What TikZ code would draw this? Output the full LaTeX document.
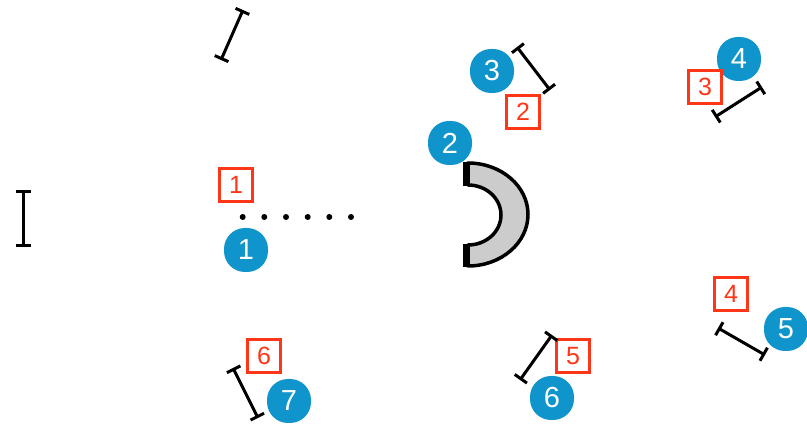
\documentclass[tikz,border=0pt]{standalone}
\usepackage{fontspec}
\setmainfont{Liberation Sans}
\usetikzlibrary{arrows.meta}
\definecolor{blobblue}{HTML}{0F95CC}
\definecolor{boxred}{HTML}{FF3517}
\definecolor{arcgray}{HTML}{CCCCCC}
\tikzset{
  blob/.style={fill=blobblue, text=white, minimum width=44pt, minimum height=44pt, rounded corners=21pt, inner sep=0pt, font=\fontsize{29}{31}\selectfont},
  rbox/.style={draw=boxred, line width=2.5pt, text=boxred, minimum size=33pt, inner sep=0pt, font=\fontsize{25}{27}\selectfont},
  ibeam/.style={line width=3pt, {Bar[width=15pt,line width=3pt]}-{Bar[width=15pt,line width=3pt]}},
  dotmark/.style={circle, fill=black, minimum size=6pt, inner sep=0pt},
}
\begin{document}
\begin{tikzpicture}[x=1pt,y=1pt]
\useasboundingbox (0,0) rectangle (807,434);
% blobs
\node[blob] (b1) at (246,184) {1};
\node[blob] (b2) at (450,291) {2};
\node[blob] (b3) at (492,363) {3};
\node[blob] (b4) at (739,375) {4};
\node[blob] (b5) at (786,105) {5};
\node[blob] (b6) at (552,36) {6};
\node[blob] (b7) at (289,33) {7};
% red boxes
\node[rbox] (r1) at (236,249) {1};
\node[rbox] (r2) at (523,322) {2};
\node[rbox] (r3) at (705,347) {3};
\node[rbox] (r4) at (731,140) {4};
\node[rbox] (r5) at (573,78) {5};
\node[rbox] (r6) at (264,78) {6};
% ibeams
\coordinate (a1) at (243,424); \coordinate (a2) at (221,374);
\coordinate (c1) at (23,244); \coordinate (c2) at (23,187);
\coordinate (d1) at (517,387); \coordinate (d2) at (550,344);
\coordinate (e1) at (762,347); \coordinate (e2) at (715,317);
\coordinate (f1) at (718,106); \coordinate (f2) at (765,79);
\coordinate (g1) at (552,99); \coordinate (g2) at (520,54);
\coordinate (h1) at (233,66); \coordinate (h2) at (258,16);
\draw[ibeam] (a1) -- (a2);
\draw[ibeam] (c1) -- (c2);
\draw[ibeam] (d1) -- (d2);
\draw[ibeam] (e1) -- (e2);
\draw[ibeam] (f1) -- (f2);
\draw[ibeam] (g1) -- (g2);
\draw[ibeam] (h1) -- (h2);
% dots
\foreach \i/\x in {1/242.7,2/264.3,3/286,4/307.7,5/329.3,6/351}
  \node[dotmark] (dot\i) at (\x,217) {};
% arc
\draw[fill=arcgray, line width=3.5pt, line join=round]
  (468,271) arc[start angle=90, end angle=-90, x radius=60, y radius=51.5]
  -- (468,189) arc[start angle=-90, end angle=90, x radius=33, y radius=30] -- cycle;
\draw[line width=7pt] (466,271.5) -- (466,248);
\draw[line width=7pt] (466,190) -- (466,166.5);
\end{tikzpicture}
\end{document}
